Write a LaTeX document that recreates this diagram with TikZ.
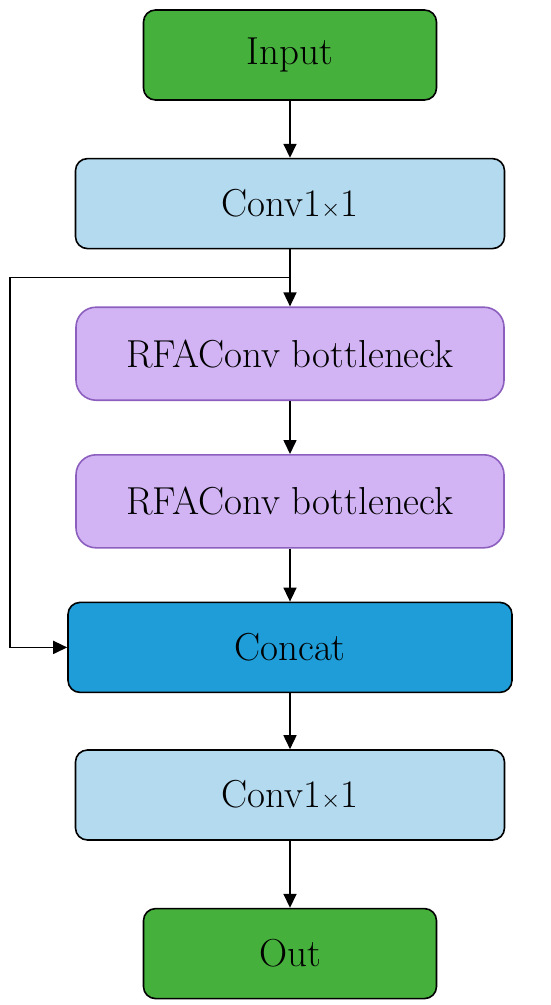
\documentclass[tikz,border=0pt]{standalone}
\usetikzlibrary{positioning,arrows.meta}
\definecolor{termgreen}{RGB}{70,176,60}
\definecolor{convblue}{RGB}{180,218,240}
\definecolor{rfafill}{RGB}{210,180,245}
\definecolor{rfadraw}{RGB}{140,95,190}
\definecolor{catblue}{RGB}{30,157,216}
\tikzset{
  block/.style={draw=black, line width=1.6pt, rounded corners=12pt, minimum height=90pt,
    inner sep=0pt, font=\fontsize{39}{46}\selectfont},
  rfablock/.style={block, draw=rfadraw, fill=rfafill, rounded corners=20pt, minimum width=428pt, minimum height=93pt},
  flow/.style={-{Triangle[length=14pt,width=13pt]}, line width=1.6pt}
}
\begin{document}
\begin{tikzpicture}[x=1pt, y=1pt, node distance=56pt]
        \useasboundingbox (0,0) rectangle (550,-1005);

        % Input and first conv
        \node[block, fill=termgreen, minimum width=293pt] (input) at (290,-55) {Input};
        \node[block, fill=convblue, minimum width=429pt, below=57pt of input] (conv1) {Conv1$\times$1};

        % Two bottleneck blocks
        \node[rfablock, below=57pt of conv1] (rfa1) {RFAConv bottleneck};
        \node[rfablock, below=53pt of rfa1] (rfa2) {RFAConv bottleneck};

        % Concat, second conv and output
        \node[block, fill=catblue, minimum width=444pt, below=53pt of rfa2] (concat) {Concat};
        \node[block, fill=convblue, minimum width=429pt, below=of concat] (conv2) {Conv1$\times$1};
        \node[block, fill=termgreen, minimum width=293pt, below=67pt of conv2] (out) {Out};

        % Main path
        \draw[flow] (input) -- (conv1);
        \draw[flow] (conv1) -- (rfa1);
        \draw[flow] (rfa1) -- (rfa2);
        \draw[flow] (rfa2) -- (concat);
        \draw[flow] (concat) -- (conv2);
        \draw[flow] (conv2) -- (out);

        % Shortcut branch into concat
        \coordinate (split) at ([yshift=-28pt]conv1.south);
        \draw[flow] (split) -- ++(-280,0) |- (concat.west);
\end{tikzpicture}
\end{document}
